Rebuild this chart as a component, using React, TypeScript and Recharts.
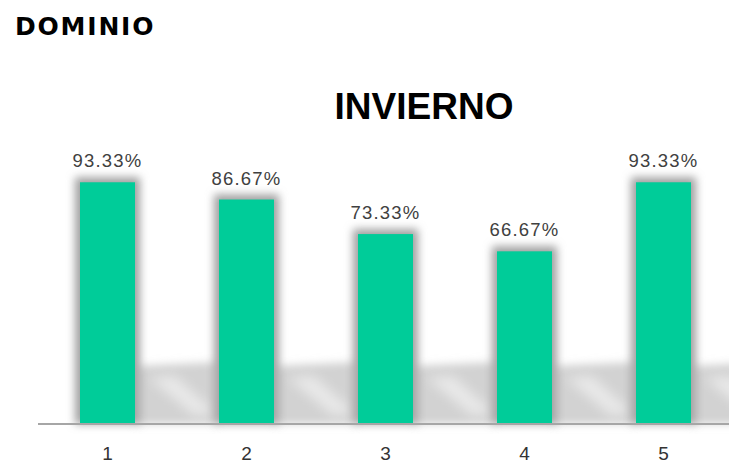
import React from 'react';
import { BarChart, Bar, XAxis, YAxis, LabelList } from 'recharts';

const categories = ['1', '2', '3', '4', '5'];
const values = [93.33, 86.67, 73.33, 66.67, 93.33];
const pageTitle = 'DOMINIO';
const chartTitle = 'INVIERNO';

const data = categories.map((c, i) => ({ name: c, value: values[i] }));

const BAR_COLOR = '#00CC99';

const ShadowBar = (props: any) => {
  const { x, y, width, height } = props;
  const base = y + height;
  const gap = 84;
  return (
    <g>
      <polygon
        points={`${x + width},${base - 58} ${x + width + gap},${base - 62} ${x + width + gap},${base} ${x + width},${base}`}
        fill="#d2d2d2"
        filter="url(#blurBand)"
      />
      <polygon
        points={`${x + width + 14},${base - 46} ${x + width + 40},${base - 48} ${x + width + 80},${base - 12} ${x + width + 60},${base - 8}`}
        fill="#ffffff"
        opacity={0.5}
        filter="url(#blurStreak)"
      />
      <rect x={x - 5} y={y - 5} width={width + 10} height={height + 5} fill="#a0a0a0" filter="url(#glow)" />
      <rect x={x} y={y} width={width} height={height} fill={BAR_COLOR} />
    </g>
  );
};

const Tick = (props: any) => {
  const { x, y, payload } = props;
  return (
    <text x={x} y={y + 35.5} textAnchor="middle" fill="#333333" fontSize={19} fontFamily="'Liberation Sans', Arial, sans-serif">
      {payload.value}
    </text>
  );
};

export default function App() {
  return (
    <div style={{ position: 'absolute', left: 0, top: 0, width: 729, height: 464, overflow: 'hidden', background: '#ffffff' }}>
      <BarChart width={741} height={464} data={data} margin={{ top: 165, right: 8, bottom: 10, left: 38 }}>
        <defs>
          <filter id="glow" x="-50%" y="-50%" width="200%" height="200%">
            <feGaussianBlur stdDeviation="4" />
          </filter>
          <filter id="blurBand" x="-50%" y="-50%" width="200%" height="200%">
            <feGaussianBlur stdDeviation="4" />
          </filter>
          <filter id="blurStreak" x="-50%" y="-50%" width="200%" height="200%">
            <feGaussianBlur stdDeviation="6" />
          </filter>
        </defs>
        <XAxis
          dataKey="name"
          height={30}
          axisLine={{ stroke: '#a6a6a6', strokeWidth: 2 }}
          tickLine={false}
          tickSize={0}
          tickMargin={0}
          tick={<Tick />}
          interval={0}
        />
        <YAxis hide domain={[0, 100]} />
        <Bar dataKey="value" barSize={55} shape={<ShadowBar />} isAnimationActive={false}>
          <LabelList
            dataKey="value"
            position="top"
            offset={15}
            formatter={(v: any) => `${Number(v).toFixed(2)}%`}
            fill="#404040"
            fontSize={18.5}
            letterSpacing={1.2}
            fontFamily="'Liberation Sans', Arial, sans-serif"
          />
        </Bar>
      </BarChart>
      <svg width={729} height={464} style={{ position: 'absolute', left: 0, top: 0, pointerEvents: 'none' }}>
        <text x={15} y={35} fontSize={25} fontWeight="bold" letterSpacing={1.8} fill="#000000" fontFamily="'DejaVu Sans', sans-serif">
          {pageTitle}
        </text>
        <text x={424} y={119} textAnchor="middle" fontSize={37} fontWeight="bold" fill="#000000" fontFamily="'Liberation Sans', Arial, sans-serif">
          {chartTitle}
        </text>
      </svg>
    </div>
  );
}
